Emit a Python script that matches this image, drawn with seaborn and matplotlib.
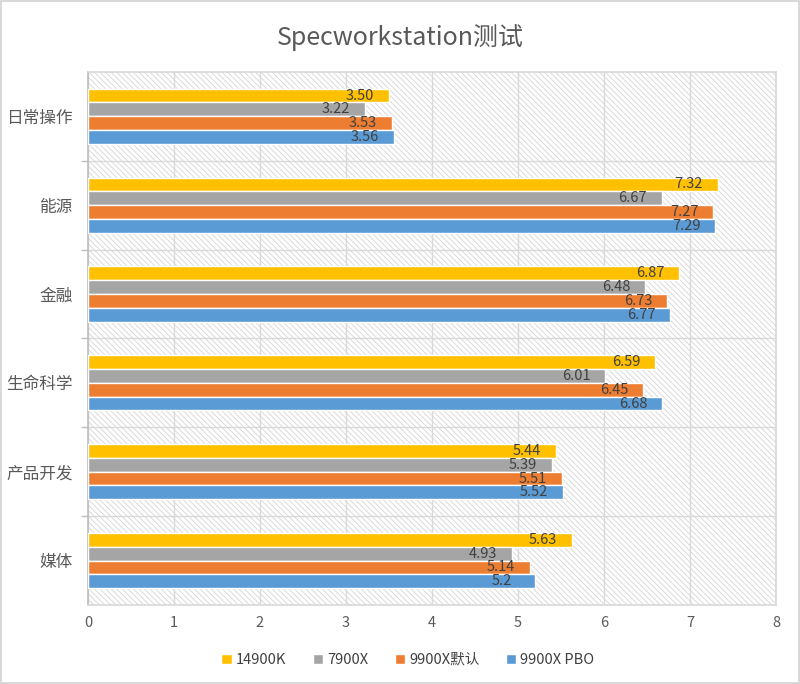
import numpy as np
import pandas as pd
import matplotlib
matplotlib.use('Agg')
import matplotlib.pyplot as plt
from matplotlib.patches import Rectangle
import seaborn as sns

# data
categories = ['日常操作', '能源', '金融', '生命科学', '产品开发', '媒体']
series = ['14900K', '7900X', '9900X默认', '9900X PBO']
v_14900k = ['3.50', '7.32', '6.87', '6.59', '5.44', '5.63']
v_7900x = ['3.22', '6.67', '6.48', '6.01', '5.39', '4.93']
v_9900x_def = ['3.53', '7.27', '6.73', '6.45', '5.51', '5.14']
v_9900x_pbo = ['3.56', '7.29', '6.77', '6.68', '5.52', '5.2']
colors = ['#FFC000', '#A5A5A5', '#ED7D31', '#5B9BD5']

rows = []
for name, vals in zip(series, [v_14900k, v_7900x, v_9900x_def, v_9900x_pbo]):
    for cat, v in zip(categories, vals):
        rows.append({'cat': cat, 'series': name, 'value': float(v), 'label': v})
df = pd.DataFrame(rows)

sns.set_theme(style='white')
plt.rcParams['font.family'] = ['Noto Sans CJK SC', 'DejaVu Sans']
plt.rcParams['hatch.linewidth'] = 0.6

fig = plt.figure(figsize=(8, 6.84), dpi=100)
fig.patch.set_edgecolor('#D9D9D9')
fig.patch.set_linewidth(1.5)
ax = fig.add_axes([0.11, 0.1155, 0.86, 0.7795])

# hatched plot background
ax.add_patch(Rectangle((0, 0), 1, 1, transform=ax.transAxes, facecolor='white',
                       edgecolor='#D4D4D4', hatch='\\' * 6, linewidth=0, zorder=0))

sns.barplot(data=df, y='cat', x='value', hue='series', order=categories,
            hue_order=series, palette=colors, orient='h', width=0.62,
            saturation=1, ax=ax, zorder=3, legend=True)

for cont, name in zip(ax.containers, series):
    labs = df[df['series'] == name].set_index('cat').loc[categories, 'label'].tolist()
    ax.bar_label(cont, labels=labs, padding=-31, fontsize=10.5, color='#404040')

ax.set_xlim(0, 8)
ax.set_ylim(len(categories) - 0.5, -0.5)
ax.set_xticks(np.arange(0, 9, 1))
ax.set_yticks(np.arange(0.5, len(categories) - 0.5, 1), minor=True)
ax.grid(axis='x', color='#D9D9D9', linewidth=1, zorder=1)
ax.grid(axis='y', which='minor', color='#D9D9D9', linewidth=1, zorder=1)
ax.set_axisbelow(True)
ax.tick_params(axis='x', colors='#595959', labelsize=10.5, length=0, pad=8)
ax.tick_params(axis='y', which='major', colors='#595959', labelsize=12, length=0, pad=11)
ax.tick_params(axis='y', which='minor', color='#BFBFBF', length=5, left=True)
ax.set_xlabel('')
ax.set_ylabel('')
for s in ax.spines.values():
    s.set_color('#D9D9D9')
ax.spines['left'].set_color('#BFBFBF')

ax.legend(loc='upper center', bbox_to_anchor=(0.465, -0.065), ncol=4, frameon=False,
          fontsize=10.5, handlelength=0.7, handleheight=0.7, handletextpad=0.3,
          columnspacing=1.8, labelcolor='#404040')

fig.suptitle('Specworkstation测试', y=0.965, fontsize=18, color='#595959')

fig.savefig('out.png', dpi=100)
